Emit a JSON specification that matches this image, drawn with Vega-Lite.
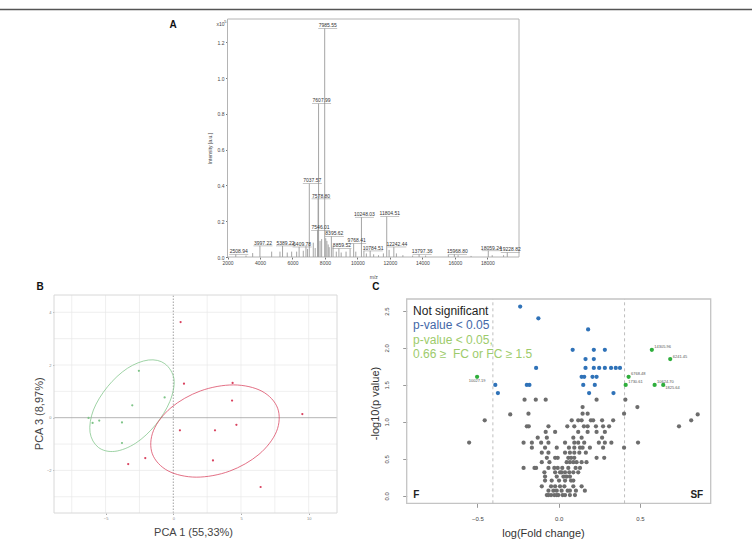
{
  "$schema": "https://vega.github.io/schema/vega-lite/v6.json",
  "width": 752,
  "height": 544,
  "padding": 0,
  "autosize": "none",
  "background": "white",
  "config": {
    "view": {"stroke": null},
    "font": "Liberation Sans",
    "axis": {"grid": false, "domain": false, "labelFlush": false, "labelOverlap": false, "titleFontWeight": "normal", "labelFont": "Liberation Sans", "titleFont": "Liberation Sans"},
    "text": {"font": "Liberation Sans"}
  },
  "datasets": {
    "spectrum": [
      {"mz": 2508.94, "intensity": 0.015, "label": "2508.94"},
      {"mz": 3140, "intensity": 0.008},
      {"mz": 3550, "intensity": 0.022},
      {"mz": 3997.22, "intensity": 0.062, "label": "3997.22"},
      {"mz": 4720, "intensity": 0.03},
      {"mz": 5230, "intensity": 0.03},
      {"mz": 5389.22, "intensity": 0.062, "label": "5389.22"},
      {"mz": 5680, "intensity": 0.025},
      {"mz": 5950, "intensity": 0.03},
      {"mz": 6258, "intensity": 0.03},
      {"mz": 6409.78, "intensity": 0.056, "label": "6409.78"},
      {"mz": 6667, "intensity": 0.035},
      {"mz": 6831, "intensity": 0.06},
      {"mz": 6930, "intensity": 0.045},
      {"mz": 7037.57, "intensity": 0.41, "label": "7037.57"},
      {"mz": 7282, "intensity": 0.08},
      {"mz": 7400, "intensity": 0.05},
      {"mz": 7546.01, "intensity": 0.149, "label": "7546.01"},
      {"mz": 7578.80, "intensity": 0.325, "label": "7578.80"},
      {"mz": 7607.99, "intensity": 0.857, "label": "7607.99"},
      {"mz": 7700, "intensity": 0.09},
      {"mz": 7797, "intensity": 0.1},
      {"mz": 7985.55, "intensity": 1.277, "label": "7985.55"},
      {"mz": 8050, "intensity": 0.105},
      {"mz": 8120, "intensity": 0.09},
      {"mz": 8200, "intensity": 0.07},
      {"mz": 8260, "intensity": 0.055},
      {"mz": 8395.62, "intensity": 0.115, "label": "8395.62"},
      {"mz": 8500, "intensity": 0.06},
      {"mz": 8700, "intensity": 0.03},
      {"mz": 8859.52, "intensity": 0.048, "label": "8859.52"},
      {"mz": 9000, "intensity": 0.025},
      {"mz": 9300, "intensity": 0.03},
      {"mz": 9550, "intensity": 0.045},
      {"mz": 9768.41, "intensity": 0.075, "label": "9768.41"},
      {"mz": 9900, "intensity": 0.03},
      {"mz": 10248.03, "intensity": 0.222, "label": "10248.03"},
      {"mz": 10400, "intensity": 0.035},
      {"mz": 10550, "intensity": 0.02},
      {"mz": 10784.51, "intensity": 0.034, "label": "10784.51"},
      {"mz": 11000, "intensity": 0.015},
      {"mz": 11300, "intensity": 0.01},
      {"mz": 11600, "intensity": 0.02},
      {"mz": 11804.51, "intensity": 0.226, "label": "11804.51"},
      {"mz": 11950, "intensity": 0.04},
      {"mz": 12242.44, "intensity": 0.056, "label": "12242.44"},
      {"mz": 12400, "intensity": 0.02},
      {"mz": 12800, "intensity": 0.01},
      {"mz": 13400, "intensity": 0.008},
      {"mz": 13797.36, "intensity": 0.015, "label": "13797.36"},
      {"mz": 14200, "intensity": 0.008},
      {"mz": 15600, "intensity": 0.012},
      {"mz": 15968.80, "intensity": 0.015, "label": "15968.80"},
      {"mz": 16200, "intensity": 0.01},
      {"mz": 17000, "intensity": 0.006},
      {"mz": 18059.24, "intensity": 0.035, "label": "18059.24"},
      {"mz": 18300, "intensity": 0.01},
      {"mz": 19000, "intensity": 0.01},
      {"mz": 19228.82, "intensity": 0.025, "label": "19228.82"}
    ],
    "pca_scores": [
      {"pc1": -2.54, "pc3": 1.78, "group": "F"},
      {"pc1": -3.03, "pc3": 0.47, "group": "F"},
      {"pc1": -0.64, "pc3": 0.77, "group": "F"},
      {"pc1": -6.26, "pc3": -0.01, "group": "F"},
      {"pc1": -5.96, "pc3": -0.2, "group": "F"},
      {"pc1": -5.47, "pc3": -0.11, "group": "F"},
      {"pc1": -3.79, "pc3": -0.18, "group": "F"},
      {"pc1": -3.79, "pc3": -0.96, "group": "F"},
      {"pc1": 0.54, "pc3": 3.63, "group": "SF"},
      {"pc1": 0.79, "pc3": 1.29, "group": "SF"},
      {"pc1": 4.38, "pc3": 1.32, "group": "SF"},
      {"pc1": 4.34, "pc3": 0.65, "group": "SF"},
      {"pc1": 9.53, "pc3": 0.14, "group": "SF"},
      {"pc1": 4.66, "pc3": -0.27, "group": "SF"},
      {"pc1": 3.08, "pc3": -0.48, "group": "SF"},
      {"pc1": 0.49, "pc3": -0.48, "group": "SF"},
      {"pc1": 2.93, "pc3": -1.62, "group": "SF"},
      {"pc1": 6.45, "pc3": -2.63, "group": "SF"},
      {"pc1": -3.33, "pc3": -1.76, "group": "SF"},
      {"pc1": -2.07, "pc3": -1.53, "group": "SF"}
    ],
    "pca_ellipses": [
      {"group": "F", "step": 0, "pc1": -0.625, "pc3": 2.049},
      {"group": "F", "step": 1, "pc1": 0.05, "pc3": 1.465},
      {"group": "F", "step": 2, "pc1": -0.25, "pc3": 0.62},
      {"group": "F", "step": 3, "pc1": -1.305, "pc3": -0.27},
      {"group": "F", "step": 4, "pc1": -2.768, "pc3": -0.964},
      {"group": "F", "step": 5, "pc1": -4.318, "pc3": -1.278},
      {"group": "F", "step": 6, "pc1": -5.532, "pc3": -1.128},
      {"group": "F", "step": 7, "pc1": -6.15, "pc3": -0.554},
      {"group": "F", "step": 8, "pc1": -5.9, "pc3": 0.291},
      {"group": "F", "step": 9, "pc1": -4.852, "pc3": 1.18},
      {"group": "F", "step": 10, "pc1": -3.389, "pc3": 1.875},
      {"group": "F", "step": 11, "pc1": -1.84, "pc3": 2.189},
      {"group": "SF", "step": 0, "pc1": 7.707, "pc3": 0.359},
      {"group": "SF", "step": 1, "pc1": 7.626, "pc3": -0.519},
      {"group": "SF", "step": 2, "pc1": 6.328, "pc3": -1.391},
      {"group": "SF", "step": 3, "pc1": 4.158, "pc3": -2.028},
      {"group": "SF", "step": 4, "pc1": 1.697, "pc3": -2.257},
      {"group": "SF", "step": 5, "pc1": -0.389, "pc3": -2.017},
      {"group": "SF", "step": 6, "pc1": -1.549, "pc3": -1.371},
      {"group": "SF", "step": 7, "pc1": -1.468, "pc3": -0.493},
      {"group": "SF", "step": 8, "pc1": -0.17, "pc3": 0.379},
      {"group": "SF", "step": 9, "pc1": 2.0, "pc3": 1.015},
      {"group": "SF", "step": 10, "pc1": 4.461, "pc3": 1.245},
      {"group": "SF", "step": 11, "pc1": 6.547, "pc3": 1.004}
    ],
    "pca_grid_pc1": [{"pc1": -7.5}, {"pc1": -5}, {"pc1": -2.5}, {"pc1": 2.5}, {"pc1": 5}, {"pc1": 7.5}, {"pc1": 10}],
    "pca_grid_pc3": [{"pc3": -3}, {"pc3": -2}, {"pc3": -1}, {"pc3": 1}, {"pc3": 2}, {"pc3": 3}, {"pc3": 4}],
    "fc_cutoffs": [{"fc": -0.405}, {"fc": 0.405}],
    "volcano": [
      {"fc": -0.21, "nlp": 1.3, "status": "ns"}, {"fc": -0.141, "nlp": 1.3, "status": "ns"}, {"fc": -0.08, "nlp": 1.3, "status": "ns"}, {"fc": 0.233, "nlp": 1.3, "status": "ns"}, {"fc": 0.41, "nlp": 1.3, "status": "ns"},
      {"fc": 0.147, "nlp": 1.2, "status": "ns"}, {"fc": 0.484, "nlp": 1.2, "status": "ns"},
      {"fc": -0.298, "nlp": 1.1, "status": "ns"}, {"fc": -0.186, "nlp": 1.11, "status": "ns"}, {"fc": 0.147, "nlp": 1.11, "status": "ns"}, {"fc": 0.178, "nlp": 1.11, "status": "ns"}, {"fc": 0.402, "nlp": 1.11, "status": "ns"}, {"fc": 0.855, "nlp": 1.1, "status": "ns"},
      {"fc": -0.455, "nlp": 1.02, "status": "ns"}, {"fc": 0.815, "nlp": 1.02, "status": "ns"},
      {"fc": 0.74, "nlp": 0.94, "status": "ns"},
      {"fc": -0.551, "nlp": 0.72, "status": "ns"}, {"fc": 0.488, "nlp": 0.72, "status": "ns"},
      {"fc": 0.402, "nlp": 0.65, "status": "ns"},
      {"fc": 0.08, "nlp": 1.02, "status": "ns"}, {"fc": 0.12, "nlp": 1.02, "status": "ns"}, {"fc": 0.141, "nlp": 1.02, "status": "ns"}, {"fc": 0.198, "nlp": 1.02, "status": "ns"}, {"fc": 0.212, "nlp": 1.02, "status": "ns"}, {"fc": 0.267, "nlp": 1.02, "status": "ns"}, {"fc": 0.335, "nlp": 1.02, "status": "ns"},
      {"fc": -0.196, "nlp": 0.94, "status": "ns"}, {"fc": -0.184, "nlp": 0.94, "status": "ns"}, {"fc": -0.063, "nlp": 0.94, "status": "ns"}, {"fc": 0.053, "nlp": 0.94, "status": "ns"}, {"fc": 0.096, "nlp": 0.94, "status": "ns"}, {"fc": 0.155, "nlp": 0.94, "status": "ns"}, {"fc": 0.178, "nlp": 0.94, "status": "ns"}, {"fc": 0.229, "nlp": 0.94, "status": "ns"}, {"fc": 0.273, "nlp": 0.94, "status": "ns"}, {"fc": 0.31, "nlp": 0.94, "status": "ns"},
      {"fc": -0.08, "nlp": 0.864, "status": "ns"}, {"fc": -0.022, "nlp": 0.864, "status": "ns"}, {"fc": 0.12, "nlp": 0.864, "status": "ns"}, {"fc": 0.178, "nlp": 0.864, "status": "ns"}, {"fc": 0.233, "nlp": 0.864, "status": "ns"}, {"fc": 0.284, "nlp": 0.864, "status": "ns"},
      {"fc": -0.129, "nlp": 0.786, "status": "ns"}, {"fc": -0.073, "nlp": 0.786, "status": "ns"}, {"fc": 0.09, "nlp": 0.786, "status": "ns"}, {"fc": 0.141, "nlp": 0.786, "status": "ns"}, {"fc": 0.267, "nlp": 0.786, "status": "ns"},
      {"fc": -0.216, "nlp": 0.718, "status": "ns"}, {"fc": -0.165, "nlp": 0.718, "status": "ns"}, {"fc": -0.108, "nlp": 0.718, "status": "ns"}, {"fc": -0.063, "nlp": 0.718, "status": "ns"}, {"fc": 0.039, "nlp": 0.718, "status": "ns"}, {"fc": 0.096, "nlp": 0.718, "status": "ns"}, {"fc": 0.12, "nlp": 0.718, "status": "ns"}, {"fc": 0.157, "nlp": 0.718, "status": "ns"}, {"fc": 0.247, "nlp": 0.718, "status": "ns"}, {"fc": 0.284, "nlp": 0.718, "status": "ns"}, {"fc": 0.324, "nlp": 0.718, "status": "ns"},
      {"fc": -0.165, "nlp": 0.65, "status": "ns"}, {"fc": -0.084, "nlp": 0.65, "status": "ns"}, {"fc": -0.012, "nlp": 0.65, "status": "ns"}, {"fc": 0.063, "nlp": 0.65, "status": "ns"}, {"fc": 0.096, "nlp": 0.65, "status": "ns"}, {"fc": 0.131, "nlp": 0.65, "status": "ns"}, {"fc": 0.147, "nlp": 0.65, "status": "ns"}, {"fc": 0.192, "nlp": 0.65, "status": "ns"}, {"fc": 0.273, "nlp": 0.65, "status": "ns"},
      {"fc": -0.104, "nlp": 0.582, "status": "ns"}, {"fc": -0.063, "nlp": 0.582, "status": "ns"}, {"fc": 0.039, "nlp": 0.582, "status": "ns"}, {"fc": 0.069, "nlp": 0.582, "status": "ns"}, {"fc": 0.096, "nlp": 0.582, "status": "ns"}, {"fc": 0.127, "nlp": 0.582, "status": "ns"}, {"fc": 0.167, "nlp": 0.582, "status": "ns"},
      {"fc": -0.073, "nlp": 0.514, "status": "ns"}, {"fc": -0.022, "nlp": 0.514, "status": "ns"}, {"fc": -0.006, "nlp": 0.514, "status": "ns"}, {"fc": 0.059, "nlp": 0.514, "status": "ns"}, {"fc": 0.076, "nlp": 0.514, "status": "ns"}, {"fc": 0.096, "nlp": 0.514, "status": "ns"}, {"fc": 0.233, "nlp": 0.514, "status": "ns"}, {"fc": 0.28, "nlp": 0.514, "status": "ns"},
      {"fc": -0.104, "nlp": 0.455, "status": "ns"}, {"fc": -0.057, "nlp": 0.455, "status": "ns"}, {"fc": 0.049, "nlp": 0.455, "status": "ns"}, {"fc": 0.069, "nlp": 0.455, "status": "ns"}, {"fc": 0.09, "nlp": 0.455, "status": "ns"}, {"fc": 0.11, "nlp": 0.455, "status": "ns"}, {"fc": 0.141, "nlp": 0.455, "status": "ns"}, {"fc": 0.171, "nlp": 0.455, "status": "ns"},
      {"fc": -0.216, "nlp": 0.377, "status": "ns"}, {"fc": -0.149, "nlp": 0.377, "status": "ns"}, {"fc": -0.139, "nlp": 0.377, "status": "ns"}, {"fc": -0.063, "nlp": 0.377, "status": "ns"}, {"fc": -0.027, "nlp": 0.377, "status": "ns"}, {"fc": -0.006, "nlp": 0.377, "status": "ns"}, {"fc": 0.022, "nlp": 0.377, "status": "ns"}, {"fc": 0.059, "nlp": 0.377, "status": "ns"}, {"fc": 0.104, "nlp": 0.377, "status": "ns"}, {"fc": 0.131, "nlp": 0.377, "status": "ns"},
      {"fc": -0.088, "nlp": 0.318, "status": "ns"}, {"fc": -0.022, "nlp": 0.318, "status": "ns"}, {"fc": 0.008, "nlp": 0.318, "status": "ns"}, {"fc": 0.018, "nlp": 0.318, "status": "ns"}, {"fc": 0.039, "nlp": 0.318, "status": "ns"}, {"fc": 0.065, "nlp": 0.318, "status": "ns"}, {"fc": 0.09, "nlp": 0.318, "status": "ns"}, {"fc": 0.12, "nlp": 0.318, "status": "ns"},
      {"fc": -0.084, "nlp": 0.259, "status": "ns"}, {"fc": -0.012, "nlp": 0.259, "status": "ns"}, {"fc": 0.029, "nlp": 0.259, "status": "ns"}, {"fc": 0.049, "nlp": 0.259, "status": "ns"}, {"fc": 0.069, "nlp": 0.259, "status": "ns"},
      {"fc": -0.084, "nlp": 0.205, "status": "ns"}, {"fc": -0.043, "nlp": 0.205, "status": "ns"}, {"fc": 0.002, "nlp": 0.205, "status": "ns"}, {"fc": 0.039, "nlp": 0.205, "status": "ns"}, {"fc": 0.076, "nlp": 0.205, "status": "ns"}, {"fc": 0.09, "nlp": 0.205, "status": "ns"},
      {"fc": -0.104, "nlp": 0.127, "status": "ns"}, {"fc": -0.047, "nlp": 0.127, "status": "ns"}, {"fc": -0.022, "nlp": 0.127, "status": "ns"}, {"fc": 0.008, "nlp": 0.127, "status": "ns"}, {"fc": 0.035, "nlp": 0.127, "status": "ns"}, {"fc": 0.09, "nlp": 0.127, "status": "ns"}, {"fc": 0.141, "nlp": 0.127, "status": "ns"},
      {"fc": -0.063, "nlp": 0.068, "status": "ns"}, {"fc": -0.033, "nlp": 0.068, "status": "ns"}, {"fc": -0.012, "nlp": 0.068, "status": "ns"}, {"fc": 0.018, "nlp": 0.068, "status": "ns"}, {"fc": 0.055, "nlp": 0.068, "status": "ns"}, {"fc": 0.069, "nlp": 0.068, "status": "ns"}, {"fc": 0.106, "nlp": 0.068, "status": "ns"}, {"fc": 0.161, "nlp": 0.068, "status": "ns"},
      {"fc": -0.073, "nlp": 0.009, "status": "ns"}, {"fc": -0.063, "nlp": 0.009, "status": "ns"}, {"fc": -0.047, "nlp": 0.009, "status": "ns"}, {"fc": -0.027, "nlp": 0.009, "status": "ns"}, {"fc": -0.012, "nlp": 0.009, "status": "ns"}, {"fc": -0.002, "nlp": 0.009, "status": "ns"}, {"fc": 0.024, "nlp": 0.009, "status": "ns"}, {"fc": 0.039, "nlp": 0.009, "status": "ns"}, {"fc": 0.069, "nlp": 0.009, "status": "ns"}, {"fc": 0.1, "nlp": 0.009, "status": "ns"},
      {"fc": -0.237, "nlp": 2.56, "status": "p"}, {"fc": -0.125, "nlp": 2.4, "status": "p"}, {"fc": 0.181, "nlp": 2.25, "status": "p"},
      {"fc": 0.086, "nlp": 1.975, "status": "p"}, {"fc": 0.216, "nlp": 1.975, "status": "p"}, {"fc": 0.284, "nlp": 1.975, "status": "p"},
      {"fc": 0.165, "nlp": 1.85, "status": "p"}, {"fc": 0.216, "nlp": 1.85, "status": "p"},
      {"fc": -0.139, "nlp": 1.73, "status": "p"}, {"fc": 0.165, "nlp": 1.73, "status": "p"}, {"fc": 0.216, "nlp": 1.73, "status": "p"}, {"fc": 0.249, "nlp": 1.73, "status": "p"}, {"fc": 0.284, "nlp": 1.73, "status": "p"}, {"fc": 0.322, "nlp": 1.73, "status": "p"}, {"fc": 0.351, "nlp": 1.73, "status": "p"}, {"fc": 0.377, "nlp": 1.73, "status": "p"},
      {"fc": 0.141, "nlp": 1.61, "status": "p"}, {"fc": 0.157, "nlp": 1.61, "status": "p"}, {"fc": 0.208, "nlp": 1.61, "status": "p"}, {"fc": 0.233, "nlp": 1.61, "status": "p"},
      {"fc": -0.39, "nlp": 1.5, "status": "p"}, {"fc": -0.196, "nlp": 1.5, "status": "p"}, {"fc": -0.18, "nlp": 1.5, "status": "p"}, {"fc": 0.151, "nlp": 1.5, "status": "p"}, {"fc": 0.222, "nlp": 1.5, "status": "p"},
      {"fc": -0.374, "nlp": 1.39, "status": "p"}, {"fc": 0.187, "nlp": 1.39, "status": "p"}, {"fc": 0.337, "nlp": 1.39, "status": "p"},
      {"fc": -0.502, "nlp": 1.61, "status": "fc", "label": "10027.19"},
      {"fc": 0.43, "nlp": 1.61, "status": "fc", "label": "6768.48"},
      {"fc": 0.412, "nlp": 1.5, "status": "fc", "label": "1730.61"},
      {"fc": 0.573, "nlp": 1.975, "status": "fc", "label": "14305.96"},
      {"fc": 0.686, "nlp": 1.85, "status": "fc", "label": "6241.45"},
      {"fc": 0.59, "nlp": 1.5, "status": "fc", "label": "10624.70"},
      {"fc": 0.643, "nlp": 1.5, "status": "fc", "label": "1825.64"}
    ]
  },
  "layer": [
    {
      "data": {"values": [{}]},
      "mark": {"type": "rule", "color": "#555555", "strokeWidth": 1.3},
      "encoding": {"y": {"datum": 0, "type": "quantitative", "scale": {"domain": [0, 1], "range": [9.5, 0]}, "axis": null}}
    },
    {
      "layer": [
        {
          "data": {"values": [{}]},
          "mark": {"type": "rect", "fillOpacity": 0, "stroke": "#b4b4b4", "strokeWidth": 1},
          "encoding": {
            "x": {"datum": 2000, "type": "quantitative"},
            "x2": {"datum": 19950},
            "y": {"datum": 0, "type": "quantitative"},
            "y2": {"datum": 1.33}
          }
        },
        {
          "data": {"name": "spectrum"},
          "mark": {"type": "rule", "color": "#9b9b9b", "strokeWidth": 0.9},
          "encoding": {
            "x": {"field": "mz", "type": "quantitative",
              "scale": {"domain": [2000, 19950], "range": [227.5, 519], "nice": false, "zero": false},
              "axis": {"orient": "bottom", "offset": -287, "values": [2000, 4000, 6000, 8000, 10000, 12000, 14000, 16000, 18000], "format": "d",
                "labelFontSize": 5, "labelColor": "#444444", "tickSize": 2, "tickColor": "#777777", "labelPadding": 1.5,
                "title": "m/z", "titleFontSize": 5, "titleColor": "#444444", "titleX": 373.3, "titleY": 19.3, "titleBaseline": "middle"}},
            "y": {"field": "intensity", "type": "quantitative",
              "scale": {"domain": [0, 1.33], "range": [257, 19], "nice": false, "zero": false},
              "axis": {"orient": "left", "offset": -227.5, "values": [0, 0.2, 0.4, 0.6, 0.8, 1, 1.2], "format": ".1f",
                "labelFontSize": 5, "labelColor": "#444444", "tickSize": 2, "tickColor": "#777777", "labelPadding": 1.5,
                "title": "Intensity [a.u.]", "titleFontSize": 5, "titleColor": "#444444", "titleX": -18.5, "titleY": 148, "titleBaseline": "middle"}},
            "y2": {"datum": 0}
          }
        },
        {
          "data": {"name": "spectrum"},
          "transform": [{"filter": "isValid(datum.label)"}],
          "mark": {"type": "tick", "orient": "horizontal", "size": 19, "thickness": 0.7, "color": "#8a8a8a", "xOffset": 3},
          "encoding": {
            "x": {"field": "mz", "type": "quantitative"},
            "y": {"field": "intensity", "type": "quantitative"}
          }
        },
        {
          "data": {"name": "spectrum"},
          "transform": [{"filter": "isValid(datum.label)"}],
          "mark": {"type": "text", "fontSize": 5, "color": "#333333", "dx": 3, "dy": -1.2, "baseline": "alphabetic", "align": "center"},
          "encoding": {
            "x": {"field": "mz", "type": "quantitative"},
            "y": {"field": "intensity", "type": "quantitative"},
            "text": {"field": "label"}
          }
        },
        {
          "data": {"values": [{}]},
          "mark": {"type": "text", "text": "x10", "fontSize": 5, "color": "#444444", "align": "right", "baseline": "middle", "dx": -2},
          "encoding": {
            "x": {"datum": 1938, "type": "quantitative"},
            "y": {"datum": 1.3, "type": "quantitative"}
          }
        },
        {
          "data": {"values": [{}]},
          "mark": {"type": "text", "text": "5", "fontSize": 4, "color": "#444444", "align": "right", "baseline": "middle", "dy": -2},
          "encoding": {
            "x": {"datum": 1938, "type": "quantitative"},
            "y": {"datum": 1.3, "type": "quantitative"}
          }
        },
        {
          "data": {"values": [{}]},
          "mark": {"type": "text", "text": "A", "fontSize": 10, "fontWeight": "bold", "color": "#111111", "align": "center", "baseline": "middle"},
          "encoding": {
            "x": {"datum": -1354, "type": "quantitative"},
            "y": {"datum": 1.296, "type": "quantitative"}
          }
        }
      ]
    },
    {
      "layer": [
        {
          "data": {"name": "pca_grid_pc1"},
          "mark": {"type": "rule", "color": "#e8e8e8", "strokeWidth": 0.7},
          "encoding": {
            "x": {"field": "pc1", "type": "quantitative"},
            "y": {"datum": -3.617, "type": "quantitative"},
            "y2": {"datum": 4.657}
          }
        },
        {
          "data": {"name": "pca_grid_pc3"},
          "mark": {"type": "rule", "color": "#e8e8e8", "strokeWidth": 0.7},
          "encoding": {
            "y": {"field": "pc3", "type": "quantitative"},
            "x": {"datum": -8.81, "type": "quantitative"},
            "x2": {"datum": 12.09}
          }
        },
        {
          "data": {"values": [{}]},
          "mark": {"type": "rule", "color": "#8a8a8a", "strokeWidth": 0.8, "strokeDash": [1.5, 1.5]},
          "encoding": {
            "x": {"datum": 0, "type": "quantitative"},
            "y": {"datum": -3.617, "type": "quantitative"},
            "y2": {"datum": 4.657}
          }
        },
        {
          "data": {"values": [{}]},
          "mark": {"type": "rule", "color": "#a0a0a0", "strokeWidth": 0.8},
          "encoding": {
            "y": {"datum": 0, "type": "quantitative"},
            "x": {"datum": -8.81, "type": "quantitative"},
            "x2": {"datum": 12.09}
          }
        },
        {
          "data": {"values": [{}]},
          "mark": {"type": "rect", "fillOpacity": 0, "stroke": "#d8d8d8", "strokeWidth": 1},
          "encoding": {
            "x": {"datum": -8.81, "type": "quantitative"},
            "x2": {"datum": 12.09},
            "y": {"datum": -3.617, "type": "quantitative"},
            "y2": {"datum": 4.657}
          }
        },
        {
          "data": {"name": "pca_ellipses"},
          "mark": {"type": "line", "interpolate": "cardinal-closed", "strokeWidth": 1, "strokeOpacity": 0.75},
          "encoding": {
            "x": {"field": "pc1", "type": "quantitative"},
            "y": {"field": "pc3", "type": "quantitative"},
            "order": {"field": "step", "type": "quantitative"},
            "color": {"field": "group", "type": "nominal", "legend": null}
          }
        },
        {
          "data": {"name": "pca_scores"},
          "mark": {"type": "circle", "size": 5, "opacity": 1},
          "encoding": {
            "x": {"field": "pc1", "type": "quantitative",
              "scale": {"domain": [-8.81, 12.09], "range": [54, 337], "nice": false, "zero": false},
              "axis": {"orient": "bottom", "offset": -31, "values": [-5, 0, 5, 10], "format": "d",
                "labelFontSize": 4, "labelColor": "#888888", "tickSize": 1.5, "tickColor": "#aaaaaa", "labelPadding": 1.5,
                "title": "PCA 1 (55,33%)", "titleFontSize": 11, "titleColor": "#444444", "titleX": 193, "titleY": 19, "titleBaseline": "middle"}},
            "y": {"field": "pc3", "type": "quantitative",
              "scale": {"domain": [-3.617, 4.657], "range": [513, 295], "nice": false, "zero": false},
              "axis": {"orient": "left", "offset": -54, "values": [-2, 0, 2, 4], "format": "d",
                "labelFontSize": 4, "labelColor": "#888888", "tickSize": 1.5, "tickColor": "#aaaaaa", "labelPadding": 1.5,
                "title": "PCA 3 (8,97%)", "titleFontSize": 11, "titleColor": "#444444", "titleX": -14.7, "titleY": 413.3, "titleBaseline": "middle"}},
            "color": {"field": "group", "type": "nominal", "scale": {"domain": ["F", "SF"], "range": ["#7fc488", "#d9415e"]}, "legend": null}
          }
        },
        {
          "data": {"values": [{}]},
          "mark": {"type": "text", "text": "B", "fontSize": 10, "fontWeight": "bold", "color": "#111111", "align": "center", "baseline": "middle"},
          "encoding": {
            "x": {"datum": -9.845, "type": "quantitative"},
            "y": {"datum": 4.96, "type": "quantitative"}
          }
        }
      ]
    },
    {
      "layer": [
        {
          "data": {"values": [{}]},
          "mark": {"type": "rect", "fillOpacity": 0, "stroke": "#c4c4c4", "strokeWidth": 1.3},
          "encoding": {
            "x": {"datum": -0.935, "type": "quantitative"},
            "x2": {"datum": 0.935},
            "y": {"datum": -0.102, "type": "quantitative"},
            "y2": {"datum": 2.662}
          }
        },
        {
          "data": {"name": "fc_cutoffs"},
          "mark": {"type": "rule", "color": "#b8b8b8", "strokeWidth": 0.9, "strokeDash": [3, 3]},
          "encoding": {
            "x": {"field": "fc", "type": "quantitative"},
            "y": {"datum": -0.102, "type": "quantitative"},
            "y2": {"datum": 2.662}
          }
        },
        {
          "data": {"name": "volcano"},
          "mark": {"type": "circle", "size": 18, "opacity": 1},
          "encoding": {
            "x": {"field": "fc", "type": "quantitative",
              "scale": {"domain": [-0.935, 0.935], "range": [406.7, 710.7], "nice": false, "zero": false},
              "axis": {"orient": "bottom", "offset": -40.7, "values": [-0.5, 0, 0.5], "format": ".1f",
                "labelFontSize": 6, "labelColor": "#444444", "tickSize": 4, "tickColor": "#999999", "labelPadding": 8,
                "title": "log(Fold change)", "titleFontSize": 11, "titleColor": "#333333", "titleX": 543, "titleY": 30, "titleBaseline": "middle"}},
            "y": {"field": "nlp", "type": "quantitative",
              "scale": {"domain": [-0.102, 2.662], "range": [503.3, 299], "nice": false, "zero": false},
              "axis": {"orient": "left", "offset": -406.7, "values": [0, 0.5, 1, 1.5, 2, 2.5], "format": ".1f",
                "labelFontSize": 6, "labelColor": "#444444", "tickSize": 4, "tickColor": "#999999", "labelPadding": 13.5,
                "labelAngle": -90, "labelAlign": "center", "labelBaseline": "bottom",
                "title": "-log10(p value)", "titleFontSize": 11, "titleColor": "#333333", "titleX": -31.7, "titleY": 403, "titleBaseline": "middle"}},
            "color": {"field": "status", "type": "nominal", "scale": {"domain": ["ns", "p", "fc"], "range": ["#6d6d6d", "#2f72b8", "#2fae3c"]}, "legend": null}
          }
        },
        {
          "data": {"name": "volcano"},
          "transform": [{"filter": "isValid(datum.label) && datum.label != '1825.64' && datum.label != '10027.19'"}],
          "mark": {"type": "text", "fontSize": 4, "color": "#555555", "align": "left", "baseline": "middle", "dx": 2.5, "dy": -2.5},
          "encoding": {
            "x": {"field": "fc", "type": "quantitative"},
            "y": {"field": "nlp", "type": "quantitative"},
            "text": {"field": "label"}
          }
        },
        {
          "data": {"name": "volcano"},
          "transform": [{"filter": "datum.label == '1825.64'"}],
          "mark": {"type": "text", "fontSize": 4, "color": "#555555", "align": "left", "baseline": "middle", "dx": 2, "dy": 3.5},
          "encoding": {
            "x": {"field": "fc", "type": "quantitative"},
            "y": {"field": "nlp", "type": "quantitative"},
            "text": {"field": "label"}
          }
        },
        {
          "data": {"name": "volcano"},
          "transform": [{"filter": "datum.label == '10027.19'"}],
          "mark": {"type": "text", "fontSize": 4, "color": "#555555", "align": "center", "baseline": "middle", "dy": 3.8},
          "encoding": {
            "x": {"field": "fc", "type": "quantitative"},
            "y": {"field": "nlp", "type": "quantitative"},
            "text": {"field": "label"}
          }
        },
        {
          "data": {"values": [{}]},
          "mark": {"type": "text", "text": "Not significant", "fontSize": 12, "color": "#1e1e1e", "align": "left", "baseline": "middle"},
          "encoding": {
            "x": {"datum": -0.896, "type": "quantitative"},
            "y": {"datum": 2.497, "type": "quantitative"}
          }
        },
        {
          "data": {"values": [{}]},
          "mark": {"type": "text", "text": "p-value < 0.05", "fontSize": 12, "color": "#4468a8", "align": "left", "baseline": "middle"},
          "encoding": {
            "x": {"datum": -0.896, "type": "quantitative"},
            "y": {"datum": 2.307, "type": "quantitative"}
          }
        },
        {
          "data": {"values": [{}]},
          "mark": {"type": "text", "text": "p-value < 0.05,", "fontSize": 12, "color": "#9dcb6b", "align": "left", "baseline": "middle"},
          "encoding": {
            "x": {"datum": -0.896, "type": "quantitative"},
            "y": {"datum": 2.112, "type": "quantitative"}
          }
        },
        {
          "data": {"values": [{}]},
          "mark": {"type": "text", "text": "0.66 ≥\u00a0 FC or FC ≥ 1.5", "fontSize": 12, "color": "#9dcb6b", "align": "left", "baseline": "middle"},
          "encoding": {
            "x": {"datum": -0.896, "type": "quantitative"},
            "y": {"datum": 1.917, "type": "quantitative"}
          }
        },
        {
          "data": {"values": [{}]},
          "mark": {"type": "text", "text": "F", "fontSize": 10, "fontWeight": "bold", "color": "#222222", "align": "left", "baseline": "middle"},
          "encoding": {
            "x": {"datum": -0.894, "type": "quantitative"},
            "y": {"datum": 0.01, "type": "quantitative"}
          }
        },
        {
          "data": {"values": [{}]},
          "mark": {"type": "text", "text": "SF", "fontSize": 10, "fontWeight": "bold", "color": "#222222", "align": "right", "baseline": "middle"},
          "encoding": {
            "x": {"datum": 0.889, "type": "quantitative"},
            "y": {"datum": 0.01, "type": "quantitative"}
          }
        },
        {
          "data": {"values": [{}]},
          "mark": {"type": "text", "text": "C", "fontSize": 10, "fontWeight": "bold", "color": "#111111", "align": "center", "baseline": "middle"},
          "encoding": {
            "x": {"datum": -1.124, "type": "quantitative"},
            "y": {"datum": 2.824, "type": "quantitative"}
          }
        }
      ]
    }
  ],
  "resolve": {
    "scale": {"x": "independent", "y": "independent", "color": "independent"},
    "axis": {"x": "independent", "y": "independent"}
  }
}
